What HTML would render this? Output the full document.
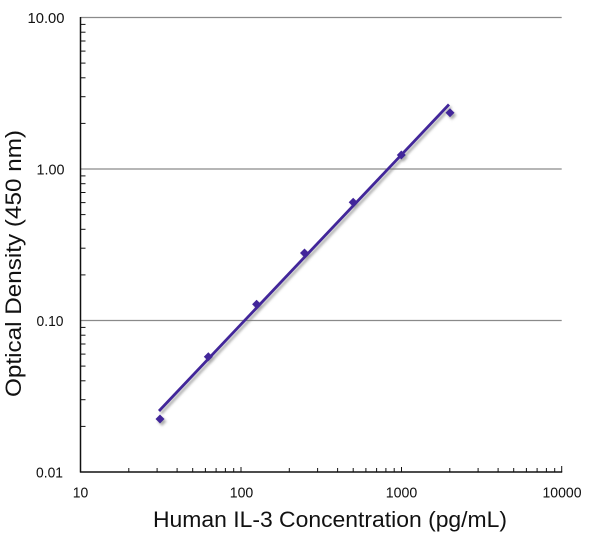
<!DOCTYPE html>
<html>
<head>
<meta charset="utf-8">
<style>
  html, body { margin:0; padding:0; background:#fff; }
  svg { display:block; }
  text { font-family: "Liberation Sans", "DejaVu Sans", sans-serif; fill:#111; }
</style>
</head>
<body>
<svg width="600" height="543" viewBox="0 0 600 543" xmlns="http://www.w3.org/2000/svg">
  <defs>
    <filter id="sh" x="-20%" y="-20%" width="140%" height="140%">
      <feDropShadow dx="2" dy="2.5" stdDeviation="1.3" flood-color="#777" flood-opacity="0.6"/>
    </filter>
  </defs>

  <!-- gridlines -->
  <g stroke="#8a8a8a" stroke-width="1.2">
    <line x1="80.5" y1="17.5" x2="561.7" y2="17.5"/>
    <line x1="80.5" y1="169" x2="561.7" y2="169"/>
    <line x1="80.5" y1="320.5" x2="561.7" y2="320.5"/>
  </g>

  <!-- y minor ticks -->
  <g stroke="#111" stroke-width="1">
    <line x1="80.5" x2="85.5" y1="426.4" y2="426.4"/>
    <line x1="80.5" x2="85.5" y1="399.7" y2="399.7"/>
    <line x1="80.5" x2="85.5" y1="380.8" y2="380.8"/>
    <line x1="80.5" x2="85.5" y1="366.1" y2="366.1"/>
    <line x1="80.5" x2="85.5" y1="354.1" y2="354.1"/>
    <line x1="80.5" x2="85.5" y1="344.0" y2="344.0"/>
    <line x1="80.5" x2="85.5" y1="335.2" y2="335.2"/>
    <line x1="80.5" x2="85.5" y1="327.4" y2="327.4"/>
    <line x1="80.5" x2="85.5" y1="274.9" y2="274.9"/>
    <line x1="80.5" x2="85.5" y1="248.2" y2="248.2"/>
    <line x1="80.5" x2="85.5" y1="229.3" y2="229.3"/>
    <line x1="80.5" x2="85.5" y1="214.6" y2="214.6"/>
    <line x1="80.5" x2="85.5" y1="202.6" y2="202.6"/>
    <line x1="80.5" x2="85.5" y1="192.5" y2="192.5"/>
    <line x1="80.5" x2="85.5" y1="183.7" y2="183.7"/>
    <line x1="80.5" x2="85.5" y1="175.9" y2="175.9"/>
    <line x1="80.5" x2="85.5" y1="123.4" y2="123.4"/>
    <line x1="80.5" x2="85.5" y1="96.7" y2="96.7"/>
    <line x1="80.5" x2="85.5" y1="77.8" y2="77.8"/>
    <line x1="80.5" x2="85.5" y1="63.1" y2="63.1"/>
    <line x1="80.5" x2="85.5" y1="51.1" y2="51.1"/>
    <line x1="80.5" x2="85.5" y1="41.0" y2="41.0"/>
    <line x1="80.5" x2="85.5" y1="32.2" y2="32.2"/>
    <line x1="80.5" x2="85.5" y1="24.4" y2="24.4"/>
  </g>

  <!-- x ticks -->
  <g stroke="#111" stroke-width="1">
    <line y1="472" y2="468" x1="128.8" x2="128.8"/>
    <line y1="472" y2="468" x1="157.1" x2="157.1"/>
    <line y1="472" y2="468" x1="177.1" x2="177.1"/>
    <line y1="472" y2="468" x1="192.7" x2="192.7"/>
    <line y1="472" y2="468" x1="205.4" x2="205.4"/>
    <line y1="472" y2="468" x1="216.1" x2="216.1"/>
    <line y1="472" y2="468" x1="225.4" x2="225.4"/>
    <line y1="472" y2="468" x1="233.7" x2="233.7"/>
    <line y1="472" y2="467" x1="241" x2="241"/>
    <line y1="472" y2="468" x1="289.3" x2="289.3"/>
    <line y1="472" y2="468" x1="317.6" x2="317.6"/>
    <line y1="472" y2="468" x1="337.6" x2="337.6"/>
    <line y1="472" y2="468" x1="353.2" x2="353.2"/>
    <line y1="472" y2="468" x1="365.9" x2="365.9"/>
    <line y1="472" y2="468" x1="376.6" x2="376.6"/>
    <line y1="472" y2="468" x1="385.9" x2="385.9"/>
    <line y1="472" y2="468" x1="394.2" x2="394.2"/>
    <line y1="472" y2="467" x1="401.5" x2="401.5"/>
    <line y1="472" y2="468" x1="449.8" x2="449.8"/>
    <line y1="472" y2="468" x1="478.1" x2="478.1"/>
    <line y1="472" y2="468" x1="498.1" x2="498.1"/>
    <line y1="472" y2="468" x1="513.7" x2="513.7"/>
    <line y1="472" y2="468" x1="526.4" x2="526.4"/>
    <line y1="472" y2="468" x1="537.1" x2="537.1"/>
    <line y1="472" y2="468" x1="546.4" x2="546.4"/>
    <line y1="472" y2="468" x1="554.7" x2="554.7"/>
    <line y1="472" y2="466" x1="561.7" x2="561.7"/>
  </g>

  <!-- axes -->
  <g stroke="#111" stroke-width="1.5">
    <line x1="80.5" y1="17" x2="80.5" y2="472.5"/>
    <line x1="80" y1="472" x2="562.2" y2="472"/>
  </g>

  <!-- y tick labels -->
  <g font-size="15" text-anchor="end">
    <text x="64.5" y="23" textLength="37" lengthAdjust="spacingAndGlyphs">10.00</text>
    <text x="64.5" y="174.5" textLength="28" lengthAdjust="spacingAndGlyphs">1.00</text>
    <text x="63.5" y="326" textLength="27" lengthAdjust="spacingAndGlyphs">0.10</text>
    <text x="63" y="477.5" textLength="27" lengthAdjust="spacingAndGlyphs">0.01</text>
  </g>

  <!-- x tick labels -->
  <g font-size="15" text-anchor="middle">
    <text x="80.5" y="497.5" textLength="15.5" lengthAdjust="spacingAndGlyphs">10</text>
    <text x="241.5" y="497.5" textLength="23.5" lengthAdjust="spacingAndGlyphs">100</text>
    <text x="401.5" y="497.5" textLength="31.5" lengthAdjust="spacingAndGlyphs">1000</text>
    <text x="562" y="497.5" textLength="39" lengthAdjust="spacingAndGlyphs">10000</text>
  </g>

  <!-- axis titles -->
  <text x="330" y="527" font-size="22" text-anchor="middle" textLength="354" lengthAdjust="spacingAndGlyphs">Human IL-3 Concentration (pg/mL)</text>
  <text transform="translate(21,263.5) rotate(-90)" font-size="22" text-anchor="middle" textLength="267" lengthAdjust="spacingAndGlyphs">Optical Density (450 nm)</text>

  <!-- data -->
  <g filter="url(#sh)">
    <line x1="159" y1="411" x2="449" y2="104.5" stroke="#43289a" stroke-width="2.8" stroke-linecap="butt"/>
    <g fill="#43289a">
      <polygon points="160,414.5 164.5,419 160,423.5 155.5,419"/>
      <polygon points="208.3,352.2 212.8,356.7 208.3,361.2 203.8,356.7"/>
      <polygon points="256.6,299.8 261.1,304.3 256.6,308.8 252.1,304.3"/>
      <polygon points="304.5,248.5 309,253 304.5,257.5 300,253"/>
      <polygon points="353.2,197.8 357.7,202.3 353.2,206.8 348.7,202.3"/>
      <polygon points="401.3,150.5 405.8,155 401.3,159.5 396.8,155"/>
      <polygon points="450,108.2 454.5,112.7 450,117.2 445.5,112.7"/>
    </g>
  </g>
</svg>
</body>
</html>
